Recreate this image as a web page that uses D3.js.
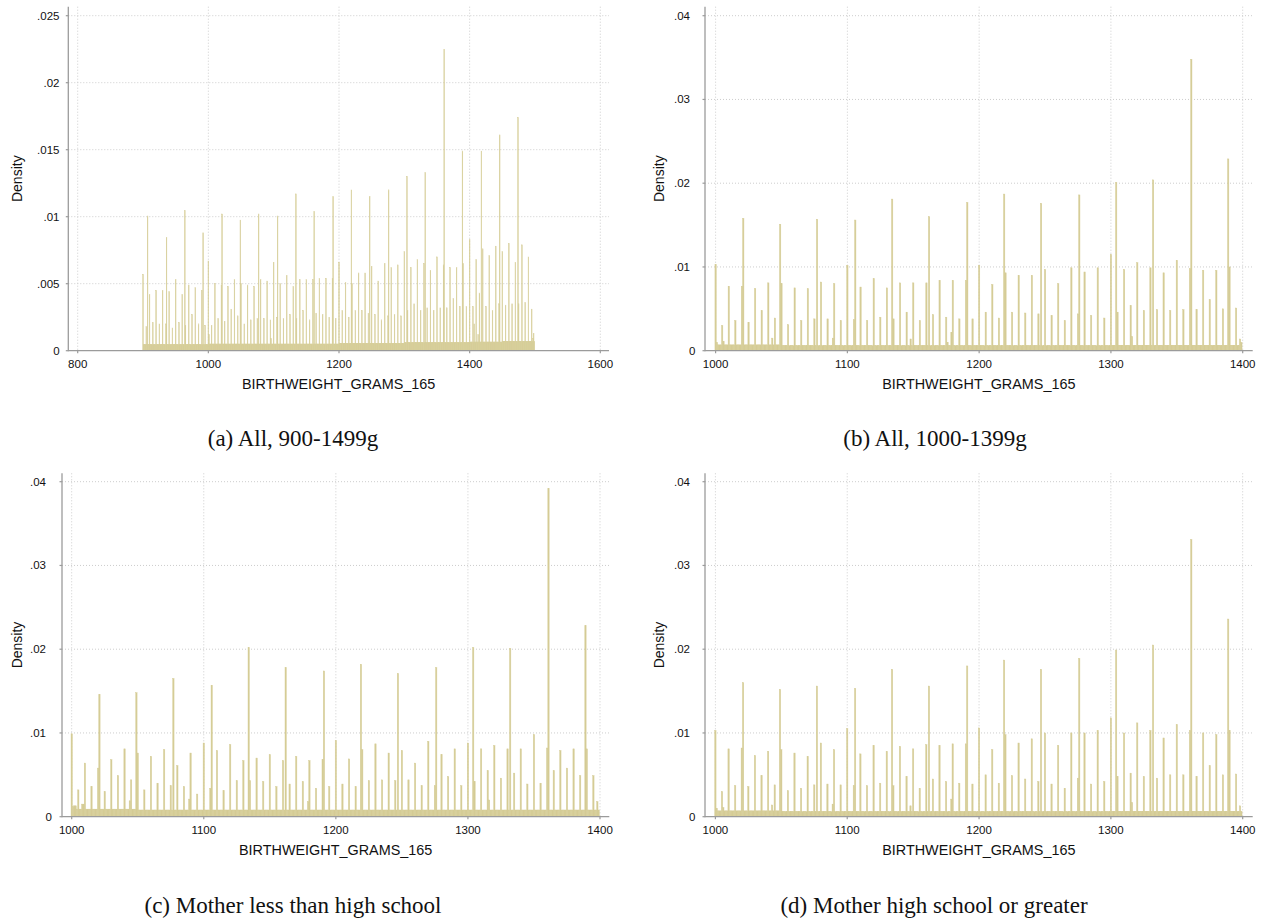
<!DOCTYPE html>
<html>
<head>
<meta charset="utf-8">
<script src="https://cdn.jsdelivr.net/npm/d3@7"></script>
<style>
  body { margin: 0; background: #fff; }
  svg { display: block; }
</style>
</head>
<body>
<svg id="fig" width="1265" height="922"></svg>
<script>
// ---------------------------------------------------------------
// Birthweight histograms (1-gram bins), density scale.
// Each panel: background level per 50 g block, heights at the
// multiples of 5 g, heights at whole-ounce grams, and a few
// other visible bars.
// ---------------------------------------------------------------

// Panel (a): All, 900-1499 g
const rangeA = [900, 1499];
const backgroundA = [0.00045, 0.00045, 0.0005, 0.0005, 0.0005, 0.0005, 0.00055, 0.00055, 0.0006, 0.0006, 0.00065, 0.0007];
const fivesA = [
  0.0057, 0.0018, 0.0042, 0.0021, 0.0045, 0.0020, 0.0045, 0.0020, 0.0044, 0.0017,  // 900-945
  0.0053, 0.0021, 0.0042, 0.0019, 0.0049, 0.0027, 0.0047, 0.0020, 0.0045, 0.0019,  // 950-995
  0.0067, 0.0019, 0.0050, 0.0024, 0.0049, 0.0022, 0.0048, 0.0031, 0.0053, 0.0026,  // 1000-1045
  0.0050, 0.0020, 0.0049, 0.0023, 0.0048, 0.0024, 0.0053, 0.0024, 0.0052, 0.0023,  // 1050-1095
  0.0066, 0.0025, 0.0050, 0.0024, 0.0056, 0.0027, 0.0048, 0.0024, 0.0053, 0.0030,  // 1100-1145
  0.0053, 0.0023, 0.0053, 0.0028, 0.0054, 0.0027, 0.0054, 0.0025, 0.0054, 0.0024,  // 1150-1195
  0.0066, 0.0030, 0.0051, 0.0025, 0.0050, 0.0030, 0.0058, 0.0030, 0.0058, 0.0028,  // 1200-1245
  0.0063, 0.0027, 0.0052, 0.0023, 0.0065, 0.0026, 0.0062, 0.0027, 0.0064, 0.0026,  // 1250-1295
  0.0074, 0.0030, 0.0062, 0.0035, 0.0068, 0.0030, 0.0065, 0.0032, 0.0060, 0.0030,  // 1300-1345
  0.0070, 0.0032, 0.0064, 0.0032, 0.0062, 0.0039, 0.0062, 0.0033, 0.0065, 0.0033,  // 1350-1395
  0.0083, 0.0033, 0.0068, 0.0043, 0.0076, 0.0033, 0.0071, 0.0030, 0.0078, 0.0035,  // 1400-1445
  0.0074, 0.0034, 0.0080, 0.0035, 0.0066, 0.0035, 0.0079, 0.0036, 0.0070, 0.0031   // 1450-1495
];
const ounceGramsA = [907, 936, 964, 992, 1021, 1049, 1077, 1106, 1134, 1162, 1191, 1219, 1247, 1276, 1304, 1332, 1361, 1389, 1418, 1446, 1474];
const ounceValsA = [0.01005, 0.00846, 0.01045, 0.0088, 0.0102, 0.00975, 0.0102, 0.01005, 0.0117, 0.0104, 0.0115,
                    0.0120, 0.0115, 0.0120, 0.0130, 0.0133, 0.0225, 0.0149, 0.0149, 0.0161, 0.0174];
const otherA = [[1001, 0.0012], [1096, 0.0009], [1407, 0.0020], [1413, 0.0012], [1497, 0.0009], [1498, 0.0013]];

// Panel (b): All, 1000-1399 g
const rangeB = [1000, 1399];
const backgroundB = [0.0007, 0.0006, 0.0006, 0.0006, 0.0006, 0.0006, 0.00065, 0.00065];
const fivesB = [
  0.0103, 0.0030, 0.0077, 0.0036, 0.0077, 0.0034, 0.0074, 0.0048, 0.0081, 0.0039,  // 1000-1045
  0.0080, 0.0031, 0.0075, 0.0036, 0.0074, 0.0038, 0.0082, 0.0038, 0.0080, 0.0036,  // 1050-1095
  0.0102, 0.0037, 0.0076, 0.0036, 0.0086, 0.0040, 0.0075, 0.0038, 0.0081, 0.0046,  // 1100-1145
  0.0081, 0.0036, 0.0081, 0.0043, 0.0084, 0.0040, 0.0084, 0.0038, 0.0084, 0.0038,  // 1150-1195
  0.0102, 0.0046, 0.0079, 0.0039, 0.0093, 0.0046, 0.0090, 0.0045, 0.0090, 0.0044,  // 1200-1245
  0.0097, 0.0042, 0.0080, 0.0036, 0.0099, 0.0044, 0.0094, 0.0042, 0.0099, 0.0039,  // 1250-1295
  0.0115, 0.0046, 0.0097, 0.0054, 0.0105, 0.0048, 0.0099, 0.0049, 0.0093, 0.0048,  // 1300-1345
  0.0108, 0.0049, 0.0098, 0.0049, 0.0096, 0.0061, 0.0096, 0.0050, 0.0100, 0.0051   // 1350-1395
];
const ounceGramsB = [1021, 1049, 1077, 1106, 1134, 1162, 1191, 1219, 1247, 1276, 1304, 1332, 1361, 1389];
const ounceValsB = [0.0158, 0.0151, 0.0157, 0.0156, 0.0181, 0.0160, 0.0177, 0.0187, 0.0176, 0.0186, 0.0201, 0.0204, 0.0348, 0.0229];
const otherB = [[1001, 0.0010], [1006, 0.0011], [1043, 0.0015], [1089, 0.0015], [1148, 0.0014], [1176, 0.0010],
                [1179, 0.0022], [1316, 0.0017], [1398, 0.0014], [1399, 0.0010]];

// Panel (c): Mother less than high school, 1000-1399 g
const rangeC = [1000, 1399];
const backgroundC = [0.0009, 0.0008, 0.0008, 0.0008, 0.0008, 0.0008, 0.0008, 0.0008];
const fivesC = [
  0.0099, 0.0032, 0.0064, 0.0036, 0.0058, 0.0030, 0.0068, 0.0049, 0.0081, 0.0044,  // 1000-1045
  0.0076, 0.0032, 0.0072, 0.0040, 0.0080, 0.0037, 0.0061, 0.0036, 0.0076, 0.0027,  // 1050-1095
  0.0088, 0.0034, 0.0079, 0.0031, 0.0086, 0.0043, 0.0067, 0.0043, 0.0070, 0.0042,  // 1100-1145
  0.0074, 0.0036, 0.0067, 0.0039, 0.0072, 0.0042, 0.0067, 0.0034, 0.0068, 0.0036,  // 1150-1195
  0.0091, 0.0039, 0.0069, 0.0036, 0.0080, 0.0043, 0.0087, 0.0044, 0.0076, 0.0043,  // 1200-1245
  0.0079, 0.0044, 0.0064, 0.0037, 0.0090, 0.0037, 0.0074, 0.0048, 0.0081, 0.0037,  // 1250-1295
  0.0088, 0.0042, 0.0081, 0.0055, 0.0085, 0.0046, 0.0081, 0.0052, 0.0081, 0.0039,  // 1300-1345
  0.0098, 0.0040, 0.0082, 0.0055, 0.0079, 0.0058, 0.0081, 0.0049, 0.0081, 0.0049   // 1350-1395
];
const ounceGramsC = [1021, 1049, 1077, 1106, 1134, 1162, 1191, 1219, 1247, 1276, 1304, 1332, 1361, 1389];
const ounceValsC = [0.0146, 0.0148, 0.0165, 0.0157, 0.0202, 0.0178, 0.0174, 0.0182, 0.0171, 0.0178, 0.0202, 0.0201, 0.0392, 0.0228];
const otherC = [[1001, 0.0012], [1002, 0.0013], [1003, 0.0013], [1008, 0.0015], [1009, 0.0015], [1044, 0.0019],
                [1089, 0.0021], [1179, 0.0018], [1316, 0.0020], [1398, 0.0018]];

// Panel (d): Mother high school or greater, 1000-1399 g
const rangeD = [1000, 1399];
const backgroundD = [0.0007, 0.0006, 0.0006, 0.0006, 0.0006, 0.0006, 0.00065, 0.00065];
const fivesD = [
  0.0103, 0.0030, 0.0081, 0.0037, 0.0082, 0.0036, 0.0073, 0.0049, 0.0078, 0.0038,  // 1000-1045
  0.0080, 0.0031, 0.0076, 0.0034, 0.0072, 0.0038, 0.0088, 0.0039, 0.0080, 0.0038,  // 1050-1095
  0.0105, 0.0037, 0.0075, 0.0037, 0.0085, 0.0040, 0.0078, 0.0037, 0.0084, 0.0048,  // 1100-1145
  0.0081, 0.0034, 0.0086, 0.0045, 0.0085, 0.0042, 0.0087, 0.0040, 0.0087, 0.0039,  // 1150-1195
  0.0106, 0.0050, 0.0080, 0.0040, 0.0098, 0.0049, 0.0088, 0.0045, 0.0093, 0.0042,  // 1200-1245
  0.0100, 0.0039, 0.0085, 0.0034, 0.0100, 0.0046, 0.0100, 0.0039, 0.0103, 0.0042,  // 1250-1295
  0.0118, 0.0048, 0.0100, 0.0052, 0.0112, 0.0048, 0.0103, 0.0046, 0.0094, 0.0050,  // 1300-1345
  0.0110, 0.0050, 0.0103, 0.0048, 0.0100, 0.0061, 0.0098, 0.0050, 0.0103, 0.0051   // 1350-1395
];
const ounceGramsD = [1021, 1049, 1077, 1106, 1134, 1162, 1191, 1219, 1247, 1276, 1304, 1332, 1361, 1389];
const ounceValsD = [0.0160, 0.0152, 0.0156, 0.0153, 0.0176, 0.0156, 0.0180, 0.0187, 0.0176, 0.0189, 0.0199, 0.0205, 0.0331, 0.0236];
const otherD = [[1001, 0.0010], [1006, 0.0011], [1043, 0.0014], [1089, 0.0015], [1148, 0.0013], [1179, 0.0021],
                [1316, 0.0017], [1398, 0.0013]];

// Axis ticks and labels
const xTicksA = [800, 1000, 1200, 1400, 1600];
const xTicksBCD = [1000, 1100, 1200, 1300, 1400];
const yTicksA = [0, 0.005, 0.01, 0.015, 0.02, 0.025];
const yLabelsA = ["0", ".005", ".01", ".015", ".02", ".025"];
const yTicksBCD = [0, 0.01, 0.02, 0.03, 0.04];
const yLabelsBCD = ["0", ".01", ".02", ".03", ".04"];

const xTitle = "BIRTHWEIGHT_GRAMS_165";
const yTitle = "Density";
const captions = ["(a) All, 900-1499g", "(b) All, 1000-1399g", "(c) Mother less than high school", "(d) Mother high school or greater"];

// ---------------------------------------------------------------
const BAR = "#d5cc96";
const AXIS = "#9b9b9b";
const GRID = "#cdcdcd";
const SANS = "'Liberation Sans', Arial, Helvetica, sans-serif";
const SERIF = "'Liberation Serif', 'Times New Roman', serif";

const svg = d3.select("#fig");

function buildBins(range, background, fives, ounceGrams, ounceVals, other) {
  const grams = d3.range(range[0], range[1] + 1);
  const v = new Map(grams.map(g => [g, background[Math.floor((g - range[0]) / 50)]]));
  other.forEach(([g, d]) => v.set(g, d));
  d3.range(range[0], range[1] + 1, 5).forEach((g, i) => v.set(g, fives[i]));
  ounceGrams.forEach((g, i) => v.set(g, ounceVals[i]));
  return grams.map(g => ({ g, v: v.get(g) }));
}

function drawPanel(p) {
  const g = svg.append("g");
  const x = d3.scaleLinear().domain(p.xDomain).range(p.xRange);
  const y = d3.scaleLinear().domain([0, p.yTicks[p.yTicks.length - 1]]).range([p.bottom, p.yTopPx]);

  // grid
  g.append("g").selectAll("line.h").data(p.yTicks.filter(t => t > 0)).join("line")
    .attr("x1", p.left).attr("x2", p.right)
    .attr("y1", d => y(d)).attr("y2", d => y(d))
    .attr("stroke", GRID).attr("stroke-width", 1).attr("stroke-dasharray", "1,2");
  g.append("g").selectAll("line.v").data(p.xTicks).join("line")
    .attr("x1", d => x(d)).attr("x2", d => x(d))
    .attr("y1", p.top).attr("y2", p.bottom)
    .attr("stroke", GRID).attr("stroke-width", 1).attr("stroke-dasharray", "1,2");

  // bars (thin outline in the fill colour, as in the histogram style)
  g.append("g").selectAll("rect").data(p.bins).join("rect")
    .attr("x", d => x(d.g - 0.5))
    .attr("width", d => x(d.g + 0.5) - x(d.g - 0.5))
    .attr("y", d => y(d.v))
    .attr("height", d => y(0) - y(d.v))
    .attr("fill", BAR)
    .attr("stroke", BAR).attr("stroke-width", 0.45);

  // axis lines
  g.append("line").attr("x1", p.left).attr("x2", p.left).attr("y1", p.top).attr("y2", p.bottom + 0.6)
    .attr("stroke", AXIS).attr("stroke-width", 1.3);
  g.append("line").attr("x1", p.left).attr("x2", p.right).attr("y1", p.bottom).attr("y2", p.bottom)
    .attr("stroke", AXIS).attr("stroke-width", 1.3);

  // y ticks and labels
  const yt = g.append("g").selectAll("g").data(p.yTicks).join("g");
  yt.append("line").attr("x1", p.left - 2.5).attr("x2", p.left).attr("y1", d => y(d)).attr("y2", d => y(d))
    .attr("stroke", AXIS).attr("stroke-width", 1.2);
  yt.append("text")
    .attr("x", d => d === 0 ? p.left - p.zeroGap : p.left - p.labelGap)
    .attr("y", d => y(d)).attr("dy", "0.35em")
    .attr("text-anchor", "end").attr("font-family", SANS).attr("font-size", 11.5).attr("fill", "#111")
    .text((d, i) => p.yLabels[i]);

  // x ticks and labels
  const xt = g.append("g").selectAll("g").data(p.xTicks).join("g");
  xt.append("line").attr("x1", d => x(d)).attr("x2", d => x(d)).attr("y1", p.bottom).attr("y2", p.bottom + 2.5)
    .attr("stroke", AXIS).attr("stroke-width", 1.2);
  xt.append("text").attr("x", d => x(d)).attr("y", p.bottom + 17.6)
    .attr("text-anchor", "middle").attr("font-family", SANS).attr("font-size", 11.5).attr("fill", "#111")
    .text(d => d);

  // axis titles
  g.append("text").attr("x", (p.left + p.right) / 2).attr("y", p.bottom + 38)
    .attr("text-anchor", "middle").attr("font-family", SANS).attr("font-size", 14.4).attr("fill", "#111")
    .text(xTitle);
  g.append("text")
    .attr("transform", `translate(${p.yTitleX},${(p.top + p.bottom) / 2}) rotate(-90)`)
    .attr("text-anchor", "middle").attr("font-family", SANS).attr("font-size", 14).attr("fill", "#111")
    .text(yTitle);

  // caption
  svg.append("text").attr("x", p.capX).attr("y", p.capY)
    .attr("text-anchor", "middle").attr("font-family", SERIF).attr("font-size", 23).attr("fill", "#111")
    .text(p.caption);
}

const panels = [
  { xDomain: [800, 1600], xRange: [77.7, 600.3], left: 68.3, right: 609, top: 6.7, bottom: 350.7, yTopPx: 15.7,
    xTicks: xTicksA, yTicks: yTicksA, yLabels: yLabelsA, labelGap: 8.8, zeroGap: 8.6, yTitleX: 21.5,
    capX: 293, capY: 446, caption: captions[0],
    bins: buildBins(rangeA, backgroundA, fivesA, ounceGramsA, ounceValsA, otherA) },
  { xDomain: [1000, 1400], xRange: [715.6, 1242.7], left: 705, right: 1252.7, top: 6.7, bottom: 350.7, yTopPx: 15.7,
    xTicks: xTicksBCD, yTicks: yTicksBCD, yLabels: yLabelsBCD, labelGap: 15, zeroGap: 9.7, yTitleX: 663.5,
    capX: 935, capY: 446, caption: captions[1],
    bins: buildBins(rangeB, backgroundB, fivesB, ounceGramsB, ounceValsB, otherB) },
  { xDomain: [1000, 1400], xRange: [71.7, 600], left: 62, right: 609.3, top: 473.3, bottom: 816.7, yTopPx: 481.7,
    xTicks: xTicksBCD, yTicks: yTicksBCD, yLabels: yLabelsBCD, labelGap: 16, zeroGap: 10, yTitleX: 21.5,
    capX: 293, capY: 913, caption: captions[2],
    bins: buildBins(rangeC, backgroundC, fivesC, ounceGramsC, ounceValsC, otherC) },
  { xDomain: [1000, 1400], xRange: [715.4, 1242.7], left: 705, right: 1252.7, top: 473.3, bottom: 816.7, yTopPx: 481.7,
    xTicks: xTicksBCD, yTicks: yTicksBCD, yLabels: yLabelsBCD, labelGap: 15, zeroGap: 9.7, yTitleX: 663.5,
    capX: 934, capY: 913, caption: captions[3],
    bins: buildBins(rangeD, backgroundD, fivesD, ounceGramsD, ounceValsD, otherD) }
];

panels.forEach(drawPanel);
</script>
</body>
</html>
